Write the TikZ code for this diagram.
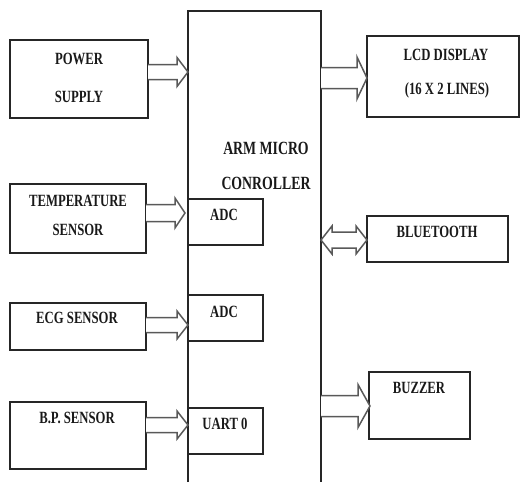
\documentclass[tikz,border=0pt]{standalone}
\usepackage{fontspec}
\setmainfont{Liberation Serif}
\newcommand\tx[1]{\scalebox{1}[1.35]{#1}}
\newcommand\harrow[6]{% tail x, tip x, y, shaft half, head half, head length
  \draw[arr] ({#1},{#3-#4}) -- ({#2-#6},{#3-#4}) -- ({#2-#6},{#3-#5}) -- ({#2},{#3})
    -- ({#2-#6},{#3+#5}) -- ({#2-#6},{#3+#4}) -- ({#1},{#3+#4});}
\newcommand\darrow[6]{% left x, right x, y, shaft half, head half, head length
  \draw[arr] ({#1+#6},{#3-#4}) -- ({#2-#6},{#3-#4}) -- ({#2-#6},{#3-#5}) -- ({#2},{#3})
    -- ({#2-#6},{#3+#5}) -- ({#2-#6},{#3+#4}) -- ({#1+#6},{#3+#4}) -- ({#1+#6},{#3+#5})
    -- ({#1},{#3}) -- ({#1+#6},{#3-#5}) -- cycle;}
\begin{document}
\begin{tikzpicture}[x=1pt,y=-1pt,
  box/.style={draw=black!85, line width=1.3pt, rectangle, inner sep=0pt},
  lbl/.style={font=\fontsize{12.7}{14}\selectfont\bfseries, inner sep=0pt, text=black!90},
  big/.style={font=\fontsize{13.8}{15}\selectfont\bfseries, inner sep=0pt, text=black!90},
  arr/.style={draw=black!65, line width=1.5pt, fill=white, line join=miter}]
\useasboundingbox (0,0) rectangle (521,482);
% controller
\draw[draw=black!85, line width=1.3pt] (188,482) -- (188,11) -- (321,11) -- (321,482);
% boxes
\node[box, minimum width=138pt, minimum height=78pt] (ps) at (79,79) {};
\node[box, minimum width=152pt, minimum height=81pt] (lcd) at (443,76.5) {};
\node[box, minimum width=136pt, minimum height=69pt] (temp) at (78,218.5) {};
\node[box, minimum width=136pt, minimum height=47pt] (ecg) at (78,326.5) {};
\node[box, minimum width=136pt, minimum height=67pt] (bp) at (78,435.5) {};
\node[box, minimum width=75pt, minimum height=46pt] (adc1) at (225.5,222) {};
\node[box, minimum width=75pt, minimum height=46pt] (adc2) at (225.5,318) {};
\node[box, minimum width=75pt, minimum height=46pt] (uart) at (225.5,431) {};
\node[box, minimum width=141pt, minimum height=46pt] (bt) at (437.5,239) {};
\node[box, minimum width=101pt, minimum height=67pt] (bz) at (419.5,405.5) {};
% arrows
\harrow{148}{188}{72}{7.5}{14.5}{11}
\harrow{321}{367}{78}{10.5}{21}{10}
\harrow{146}{185}{213}{8.5}{15}{10}
\harrow{146}{188}{325}{7.5}{14}{11}
\harrow{146}{188}{425}{7.5}{14}{11}
\harrow{321}{370}{406}{10.5}{21.5}{12}
\darrow{321}{367}{240}{8}{14}{11}
% labels
\node[lbl] (t1) at (79,59) {\tx{POWER}};
\node[lbl] (t2) at (79,97) {\tx{SUPPLY}};
\node[lbl] (t3) at (446,55) {\tx{LCD DISPLAY}};
\node[lbl] (t4) at (447,90) {\tx{(16 X 2 LINES)}};
\node[big] (t5) at (266,148) {\tx{ARM MICRO}};
\node[big] (t6) at (266,183) {\tx{CONROLLER}};
\node[lbl] (t7) at (78,201) {\tx{TEMPERATURE}};
\node[lbl] (t8) at (78,230) {\tx{SENSOR}};
\node[lbl] (t9) at (224,215) {\tx{ADC}};
\node[lbl] (t10) at (224,312) {\tx{ADC}};
\node[lbl] (t11) at (77,318) {\tx{ECG SENSOR}};
\node[lbl] (t12) at (225,424) {\tx{UART 0}};
\node[lbl] (t13) at (77,418) {\tx{B.P. SENSOR}};
\node[lbl] (t14) at (437,232) {\tx{BLUETOOTH}};
\node[lbl] (t15) at (419,388) {\tx{BUZZER}};
\end{tikzpicture}
\end{document}
